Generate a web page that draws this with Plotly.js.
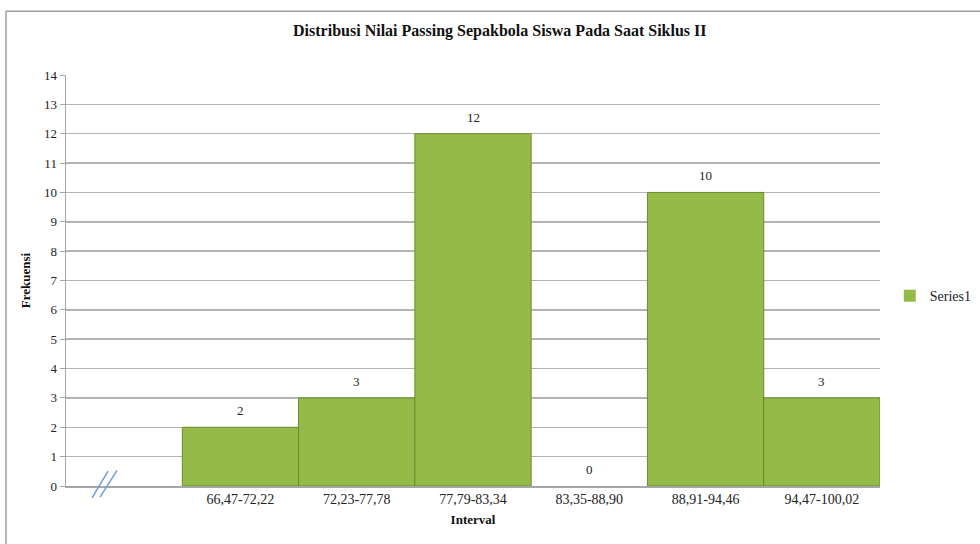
<!DOCTYPE html>
<html>
<head>
<meta charset="utf-8">
<script src="https://cdn.plot.ly/plotly-3.0.1.min.js"></script>
<style>html,body{margin:0;padding:0;background:#fff;}#chart{width:980px;height:544px;}</style>
</head>
<body>
<div id="chart"></div>
<script>
const categories = ["", "66,47-72,22", "72,23-77,78", "77,79-83,34", "83,35-88,90", "88,91-94,46", "94,47-100,02"];
const frequencies = [null, 2, 3, 12, 0, 10, 3];
const seriesName = "Series1";
const yTicks = [0,1,2,3,4,5,6,7,8,9,10,11,12,13,14];

const positions = categories.map((c, i) => i);
const serif = "'Liberation Serif', 'Times New Roman', serif";

const trace = {
  type: 'bar',
  name: seriesName,
  x: positions,
  y: frequencies,
  marker: {color: '#94bb48', line: {color: '#6b8b2e', width: frequencies.map(v => v ? 1 : 0)}},
  hoverinfo: 'x+y'
};

const valueLabels = [];
frequencies.forEach((v, i) => {
  if (v === null) return;
  valueLabels.push({x: positions[i], y: v, xref: 'x', yref: 'y', text: String(v),
    showarrow: false, yanchor: 'bottom', yshift: 7,
    font: {family: serif, size: 13, color: '#222'}});
});

const layout = {
  width: 980, height: 544,
  margin: {l: 66, r: 100, t: 75, b: 58, autoexpand: false},
  paper_bgcolor: '#ffffff',
  plot_bgcolor: '#ffffff',
  bargap: 0,
  font: {family: serif, size: 13, color: '#222'},
  title: {text: '<b>Distribusi Nilai Passing Sepakbola Siswa Pada Saat Siklus II</b>',
          x: 0.51, xref: 'container', xanchor: 'center', y: 0.945, yanchor: 'middle',
          font: {family: serif, size: 16, color: '#111'}},
  xaxis: {
    range: [-0.5, 6.5],
    tickmode: 'array', tickvals: positions, ticktext: categories,
    showgrid: false, zeroline: false,
    showline: true, linecolor: '#a6a6a6', linewidth: 1.5,
    ticks: '', tickfont: {family: serif, size: 14, color: '#222'},
    title: {text: '<b>Interval</b>', font: {family: serif, size: 13, color: '#111'}, standoff: 8}
  },
  yaxis: {
    range: [0, 14],
    tickmode: 'array', tickvals: yTicks,
    showgrid: true, gridcolor: '#b3b3b3', gridwidth: 1.5,
    zeroline: false,
    showline: true, linecolor: '#a6a6a6', linewidth: 1.5,
    ticks: 'outside', ticklen: 5, tickcolor: '#a6a6a6', tickwidth: 1,
    tickfont: {family: serif, size: 13, color: '#222'},
    title: {text: '<b>Frekuensi</b>', font: {family: serif, size: 13, color: '#111'}, standoff: 10}
  },
  showlegend: true,
  legend: {x: 1.012, xanchor: 'left', y: 0.462, yanchor: 'middle',
           font: {family: serif, size: 14, color: '#222'}, bgcolor: 'rgba(0,0,0,0)'},
  annotations: valueLabels,
  shapes: [
    {type: 'rect', xref: 'paper', yref: 'paper', x0: -0.0737, x1: 1.2, y0: -0.2, y1: 1.155,
     line: {color: '#a0a0a0', width: 1.5}, layer: 'below'},
    {type: 'line', xref: 'paper', yref: 'paper', x0: 0.032, y0: -0.029, x1: 0.0516, y1: 0.036,
     line: {color: '#6f9ed6', width: 1.5}},
    {type: 'line', xref: 'paper', yref: 'paper', x0: 0.0418, y0: -0.027, x1: 0.0627, y1: 0.038,
     line: {color: '#6f9ed6', width: 1.5}}
  ]
};

Plotly.newPlot('chart', [trace], layout, {displayModeBar: false, staticPlot: true});
</script>
</body>
</html>
